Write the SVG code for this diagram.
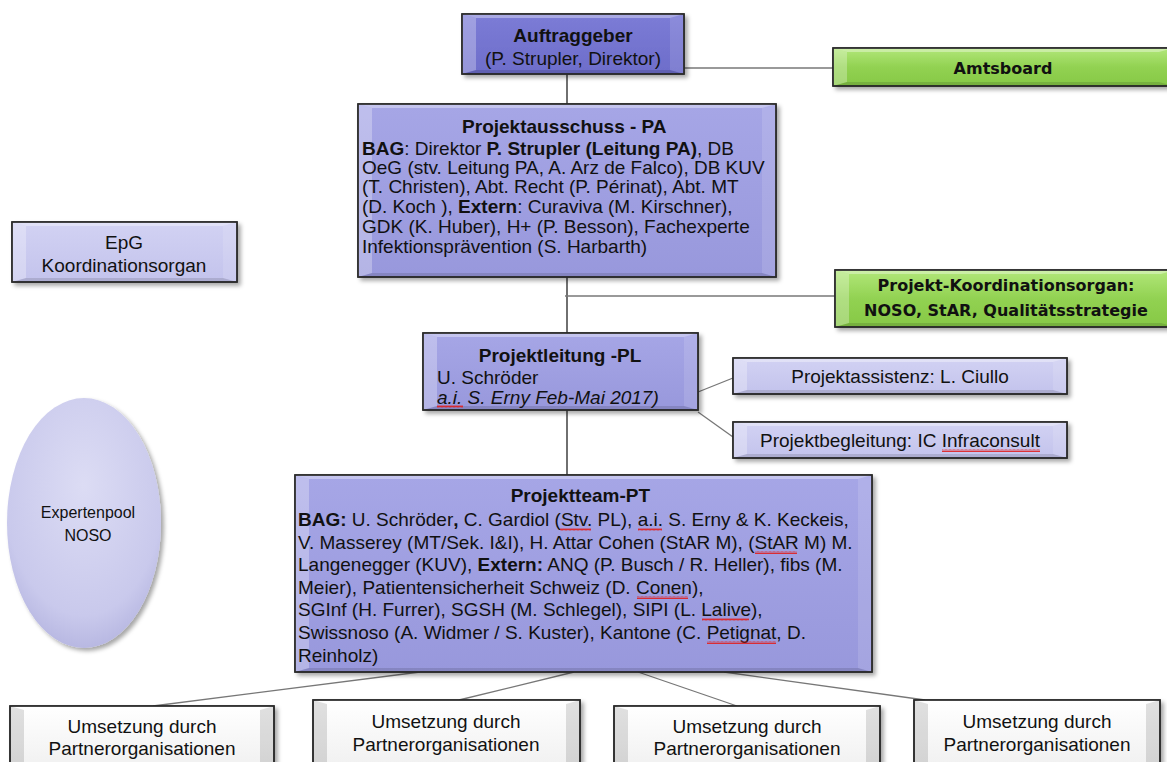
<svg xmlns="http://www.w3.org/2000/svg" width="1167" height="762" viewBox="0 0 1167 762">
<defs>
<style>
.t{font-family:"Liberation Sans",Arial,sans-serif;fill:#111}
.g{font-family:"DejaVu Sans",Verdana,sans-serif;font-weight:bold;fill:#111}
.b{font-weight:bold}
.sq{fill:url(#wave)}
.box{stroke:#2a2a2a;stroke-width:1.5}
.bt{fill:#fff;opacity:.35}
.bl{fill:#fff;opacity:.28}
.br{fill:#fff;opacity:.12}
.bb{fill:#000;opacity:.12}
.c1{stroke:#222;stroke-width:1.3;fill:none}
.c2{stroke:#777;stroke-width:1.3;fill:none}
</style>
<pattern id="wave" x="0" y="0" width="4" height="3" patternUnits="userSpaceOnUse"><path d="M0 2.5 L1 0.5 L2 2.5 L3 0.5 L4 2.5" stroke="#e02020" stroke-width="0.9" fill="none"/></pattern>
<linearGradient id="gDark" x1="0" y1="0" x2="0" y2="1"><stop offset="0" stop-color="#7c7cd6"/><stop offset="1" stop-color="#6d6dca"/></linearGradient>
<linearGradient id="gMid" x1="0" y1="0" x2="0" y2="1"><stop offset="0" stop-color="#a6a6e6"/><stop offset="1" stop-color="#9898dc"/></linearGradient>
<linearGradient id="gLight" x1="0" y1="0" x2="0" y2="1"><stop offset="0" stop-color="#d2d2f3"/><stop offset="1" stop-color="#c3c3ec"/></linearGradient>
<linearGradient id="gGreen" x1="0" y1="0" x2="0" y2="1"><stop offset="0" stop-color="#b2e77a"/><stop offset="0.5" stop-color="#92d252"/><stop offset="1" stop-color="#86c846"/></linearGradient>
<linearGradient id="gWhite" x1="0" y1="0" x2="0" y2="1"><stop offset="0" stop-color="#ffffff"/><stop offset="1" stop-color="#f0f0f0"/></linearGradient>
<radialGradient id="gEll" cx="0.5" cy="0.35" r="0.65"><stop offset="0" stop-color="#dcdcf4"/><stop offset="0.8" stop-color="#c9c9ec"/><stop offset="1" stop-color="#b8b8e2"/></radialGradient>
<filter id="sh" x="-10%" y="-10%" width="130%" height="140%"><feDropShadow dx="3" dy="3" stdDeviation="2" flood-color="#000" flood-opacity="0.35"/></filter>
</defs>
<rect width="1167" height="762" fill="#fff"/>

<g id="connectors">
<line class="c2" x1="684" y1="68" x2="833" y2="68"/>
<line class="c1" x1="567" y1="74" x2="567" y2="104"/>
<line class="c1" x1="567" y1="277" x2="567" y2="333"/>
<line class="c2" x1="565" y1="296" x2="835" y2="296"/>
<line class="c2" x1="698" y1="392" x2="733" y2="378"/>
<line class="c2" x1="698" y1="412" x2="733" y2="437"/>
<line class="c1" x1="567" y1="410" x2="567" y2="475"/>
<line class="c2" x1="420" y1="672" x2="153" y2="706"/>
<line class="c2" x1="574" y1="672" x2="459" y2="700"/>
<line class="c2" x1="638" y1="672" x2="737" y2="706"/>
<line class="c2" x1="724" y1="672" x2="925" y2="700"/>
</g>

<g id="auftraggeber">
<rect class="box" x="462" y="14" width="222" height="60" fill="url(#gDark)" filter="url(#sh)"/>
<polygon class="bt" points="462,14 684,14 670,18 476,18"/>
<polygon class="bl" points="462,14 476,18 476,70 462,74"/>
<polygon class="br" points="684,14 670,18 670,70 684,74"/>
<polygon class="bb" points="462,74 476,70 670,70 684,74"/>
<rect x="462" y="14" width="222" height="60" fill="none" class="box"/>
<text class="t b" x="573" y="42" font-size="19" text-anchor="middle">Auftraggeber</text>
<text class="t" x="573" y="65" font-size="19" text-anchor="middle">(P. Strupler, Direktor)</text>
</g>

<g id="amtsboard">
<rect class="box" x="833" y="48" width="340" height="38" fill="url(#gGreen)" filter="url(#sh)"/>
<polygon class="bt" points="833,48 1173,48 1159,52 847,52"/>
<polygon class="bl" points="833,48 847,52 847,82 833,86"/>
<polygon class="bb" points="833,86 847,82 1159,82 1173,86"/>
<rect x="833" y="48" width="340" height="38" fill="none" class="box"/>
<text class="g" x="1003" y="74" font-size="16" text-anchor="middle">Amtsboard</text>
</g>

<g id="projektausschuss">
<rect class="box" x="358" y="104" width="418" height="173" fill="url(#gMid)" filter="url(#sh)"/>
<polygon class="bt" points="358,104 776,104 762,108 372,108"/>
<polygon class="bl" points="358,104 372,108 372,273 358,277"/>
<polygon class="br" points="776,104 762,108 762,273 776,277"/>
<polygon class="bb" points="358,277 372,273 762,273 776,277"/>
<rect x="358" y="104" width="418" height="173" fill="none" class="box"/>
<text class="t" font-size="19">
<tspan class="b" x="567" y="133" text-anchor="middle">Projektausschuss - PA</tspan>
<tspan x="362" y="155"><tspan class="b">BAG</tspan>: Direktor <tspan class="b">P. Strupler (Leitung PA)</tspan>, DB</tspan>
<tspan x="362" y="174">OeG (stv. Leitung PA, A. Arz de Falco), DB KUV</tspan>
<tspan x="362" y="193">(T. Christen), Abt. Recht (P. Périnat), Abt. MT</tspan>
<tspan x="362" y="213">(D. Koch ), <tspan class="b">Extern</tspan>: Curaviva (M. Kirschner),</tspan>
<tspan x="362" y="233">GDK (K. Huber), H+ (P. Besson), Fachexperte</tspan>
<tspan x="362" y="253">Infektionsprävention (S. Harbarth)</tspan>
</text>
</g>

<g id="koordinationsorgan">
<rect class="box" x="835" y="270" width="340" height="57" fill="url(#gGreen)" filter="url(#sh)"/>
<polygon class="bt" points="835,270 1175,270 1161,274 849,274"/>
<polygon class="bl" points="835,270 849,274 849,323 835,327"/>
<polygon class="bb" points="835,327 849,323 1161,323 1175,327"/>
<rect x="835" y="270" width="340" height="57" fill="none" class="box"/>
<text class="g" x="1006" y="291" font-size="16" text-anchor="middle">Projekt-Koordinationsorgan:</text>
<text class="g" x="1006" y="316" font-size="16" text-anchor="middle">NOSO, StAR, Qualitätsstrategie</text>
</g>

<g id="epg">
<rect class="box" x="12" y="222" width="225" height="60" fill="url(#gLight)" filter="url(#sh)"/>
<polygon class="bt" points="12,222 237,222 223,226 26,226"/>
<polygon class="bl" points="12,222 26,226 26,278 12,282"/>
<polygon class="br" points="237,222 223,226 223,278 237,282"/>
<polygon class="bb" points="12,282 26,278 223,278 237,282"/>
<rect x="12" y="222" width="225" height="60" fill="none" class="box"/>
<text class="t" x="124" y="249" font-size="19" text-anchor="middle">EpG</text>
<text class="t" x="124" y="272" font-size="19" text-anchor="middle">Koordinationsorgan</text>
</g>

<g id="projektleitung">
<rect class="box" x="423" y="333" width="275" height="77" fill="url(#gMid)" filter="url(#sh)"/>
<polygon class="bt" points="423,333 698,333 684,337 437,337"/>
<polygon class="bl" points="423,333 437,337 437,406 423,410"/>
<polygon class="br" points="698,333 684,337 684,406 698,410"/>
<polygon class="bb" points="423,410 437,406 684,406 698,410"/>
<rect x="423" y="333" width="275" height="77" fill="none" class="box"/>
<text class="t b" x="560" y="362" font-size="19" text-anchor="middle">Projektleitung -PL</text>
<text class="t" x="437" y="384" font-size="19">U. Schröder</text>
<text class="t" x="437" y="404" font-size="19" font-style="italic">a.i. S. Erny Feb-Mai 2017)</text>
<rect class="sq" x="437" y="405" width="26" height="3"/>
</g>

<g id="projektassistenz">
<rect class="box" x="733" y="358" width="334" height="36" fill="url(#gLight)" filter="url(#sh)"/>
<polygon class="bt" points="733,358 1067,358 1053,362 747,362"/>
<polygon class="bl" points="733,358 747,362 747,390 733,394"/>
<polygon class="br" points="1067,358 1053,362 1053,390 1067,394"/>
<polygon class="bb" points="733,394 747,390 1053,390 1067,394"/>
<rect x="733" y="358" width="334" height="36" fill="none" class="box"/>
<text class="t" x="900" y="383" font-size="19" text-anchor="middle">Projektassistenz: L. Ciullo</text>
</g>

<g id="projektbegleitung">
<rect class="box" x="733" y="422" width="334" height="36" fill="url(#gLight)" filter="url(#sh)"/>
<polygon class="bt" points="733,422 1067,422 1053,426 747,426"/>
<polygon class="bl" points="733,422 747,426 747,454 733,458"/>
<polygon class="br" points="1067,422 1053,426 1053,454 1067,458"/>
<polygon class="bb" points="733,458 747,454 1053,454 1067,458"/>
<rect x="733" y="422" width="334" height="36" fill="none" class="box"/>
<text class="t" x="900" y="447" font-size="19" text-anchor="middle">Projektbegleitung: IC Infraconsult</text>
<rect class="sq" x="942" y="449" width="98" height="3"/>
</g>

<g id="expertenpool">
<ellipse cx="84" cy="523" rx="77" ry="125" fill="url(#gEll)" filter="url(#sh)"/>
<text class="t" x="88" y="518" font-size="16" text-anchor="middle">Expertenpool</text>
<text class="t" x="88" y="541" font-size="16" text-anchor="middle">NOSO</text>
</g>

<g id="projektteam">
<rect class="box" x="295" y="475" width="577" height="197" fill="url(#gMid)" filter="url(#sh)"/>
<polygon class="bt" points="295,475 872,475 858,479 309,479"/>
<polygon class="bl" points="295,475 309,479 309,668 295,672"/>
<polygon class="br" points="872,475 858,479 858,668 872,672"/>
<polygon class="bb" points="295,672 309,668 858,668 872,672"/>
<rect x="295" y="475" width="577" height="197" fill="none" class="box"/>
<text class="t" font-size="19">
<tspan class="b" x="583" y="502" text-anchor="middle">Projektteam-PT</tspan>
<tspan x="298" y="526"><tspan class="b">BAG:</tspan> U. Schröder<tspan class="b">,</tspan> C. Gardiol (Stv. PL), a.i. S. Erny &amp; K. Keckeis,</tspan>
<tspan x="298" y="549">V. Masserey (MT/Sek. I&amp;I), H. Attar Cohen (StAR M), (StAR M) M.</tspan>
<tspan x="298" y="571">Langenegger (KUV),  <tspan class="b">Extern:</tspan> ANQ (P. Busch / R. Heller), fibs (M.</tspan>
<tspan x="298" y="594">Meier), Patientensicherheit Schweiz (D. Conen),</tspan>
<tspan x="298" y="616">SGInf (H. Furrer), SGSH (M. Schlegel), SIPI (L. Lalive),</tspan>
<tspan x="298" y="639">Swissnoso (A. Widmer / S. Kuster), Kantone (C. Petignat, D.</tspan>
<tspan x="298" y="662">Reinholz)</tspan>
</text>
<rect class="sq" x="560" y="528" width="31" height="3"/>
<rect class="sq" x="638" y="528" width="24" height="3"/>
<rect class="sq" x="755" y="551" width="42" height="3"/>
<rect class="sq" x="637" y="596" width="51" height="3"/>
<rect class="sq" x="702" y="618" width="47" height="3"/>
<rect class="sq" x="707" y="641" width="69" height="3"/>
</g>

<g id="umsetzung1">
<rect class="box" x="10" y="706" width="264" height="64" fill="url(#gWhite)" filter="url(#sh)"/>
<polygon class="bt" points="10,706 274,706 260,710 24,710"/>
<polygon class="bb" points="10,706 24,710 24,770 10,770"/>
<polygon class="bb" points="274,706 260,710 260,770 274,770"/>
<rect x="10" y="706" width="264" height="64" fill="none" class="box"/>
<text class="t" x="142" y="733" font-size="19" text-anchor="middle">Umsetzung durch</text>
<text class="t" x="142" y="755" font-size="19" text-anchor="middle">Partnerorganisationen</text>
</g>
<g id="umsetzung2">
<rect class="box" x="313" y="700" width="267" height="70" fill="url(#gWhite)" filter="url(#sh)"/>
<polygon class="bt" points="313,700 580,700 566,704 327,704"/>
<polygon class="bb" points="313,700 327,704 327,770 313,770"/>
<polygon class="bb" points="580,700 566,704 566,770 580,770"/>
<rect x="313" y="700" width="267" height="70" fill="none" class="box"/>
<text class="t" x="446" y="728" font-size="19" text-anchor="middle">Umsetzung durch</text>
<text class="t" x="446" y="751" font-size="19" text-anchor="middle">Partnerorganisationen</text>
</g>
<g id="umsetzung3">
<rect class="box" x="614" y="706" width="266" height="64" fill="url(#gWhite)" filter="url(#sh)"/>
<polygon class="bt" points="614,706 880,706 866,710 628,710"/>
<polygon class="bb" points="614,706 628,710 628,770 614,770"/>
<polygon class="bb" points="880,706 866,710 866,770 880,770"/>
<rect x="614" y="706" width="266" height="64" fill="none" class="box"/>
<text class="t" x="747" y="733" font-size="19" text-anchor="middle">Umsetzung durch</text>
<text class="t" x="747" y="755" font-size="19" text-anchor="middle">Partnerorganisationen</text>
</g>
<g id="umsetzung4">
<rect class="box" x="914" y="700" width="246" height="70" fill="url(#gWhite)" filter="url(#sh)"/>
<polygon class="bt" points="914,700 1160,700 1146,704 928,704"/>
<polygon class="bb" points="914,700 928,704 928,770 914,770"/>
<polygon class="bb" points="1160,700 1146,704 1146,770 1160,770"/>
<rect x="914" y="700" width="246" height="70" fill="none" class="box"/>
<text class="t" x="1037" y="728" font-size="19" text-anchor="middle">Umsetzung durch</text>
<text class="t" x="1037" y="751" font-size="19" text-anchor="middle">Partnerorganisationen</text>
</g>
</svg>
